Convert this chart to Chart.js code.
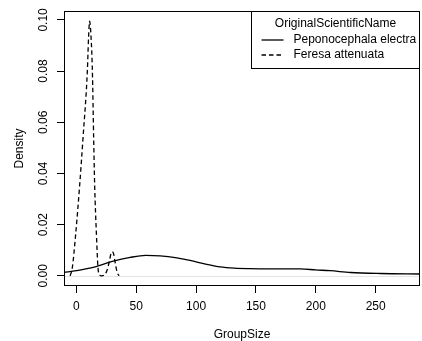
<!DOCTYPE html>
<html>
<head>
<meta charset="utf-8">
<script src="https://cdn.jsdelivr.net/npm/chart.js@4.4.1/dist/chart.umd.min.js"></script>
<style>
  html, body { margin: 0; padding: 0; background: #fff; }
  canvas { display: block; }
</style>
</head>
<body>
<canvas id="myChart" width="422" height="341"></canvas>
<script>
// density estimates
const seriesNames = ['Peponocephala electra', 'Feresa attenuata'];
const legendTitle = 'OriginalScientificName';

const electraX = [-10.3, 0, 15, 30, 45, 58, 70, 84, 95, 108, 120, 132, 145, 160, 175, 187, 200, 212, 229, 254, 287];
const electraY = [0.0013, 0.002, 0.0034, 0.0056, 0.0072, 0.008, 0.0078, 0.007, 0.006, 0.0046, 0.0035, 0.003, 0.0028, 0.0027, 0.0027, 0.0027, 0.0023, 0.002, 0.0013, 0.0009, 0.0007];

const feresaX = [-5.2, -3.4, -0.6, 2.8, 5.6, 9.2, 10.2, 11.1, 12.2, 13.4, 14.5, 15.3, 16.8, 18.1, 19.5, 21, 23, 25.5, 27.5, 29, 30, 31, 32.5, 34, 35.7];
const feresaY = [0, 0.003, 0.016, 0.0355, 0.054, 0.08, 0.093, 0.0995, 0.094, 0.08, 0.053, 0.0355, 0.016, 0.003, 0.0003, 0, 0.0002, 0.002, 0.0055, 0.0088, 0.0093, 0.0088, 0.005, 0.0015, 0];

const xTicks = [0, 50, 100, 150, 200, 250];
const yTicks = [0, 0.02, 0.04, 0.06, 0.08, 0.10];

const FONT = {family: '"Liberation Sans", Arial, sans-serif', size: 12};
Chart.defaults.font.family = FONT.family;
Chart.defaults.font.size = FONT.size;
Chart.defaults.color = '#000';

const dashes = [[], [4.5, 3]];

// grey zero line, plot box and the boxed legend
const rStyle = {
    id: 'rStyle',
    beforeDatasetsDraw(chart) {
        const {ctx, chartArea} = chart;
        const y = Math.round(chart.scales.y.getPixelForValue(0)) + 0.5;
        ctx.save();
        ctx.strokeStyle = '#e4e4e4';
        ctx.lineWidth = 1;
        ctx.beginPath();
        ctx.moveTo(chartArea.left, y);
        ctx.lineTo(chartArea.right, y);
        ctx.stroke();
        ctx.restore();
    },
    afterDraw(chart) {
        const {ctx, chartArea} = chart;
        ctx.save();
        ctx.strokeStyle = '#000';
        ctx.lineWidth = 1;
        ctx.strokeRect(chartArea.left + 0.5, chartArea.top + 0.5,
            chartArea.right - chartArea.left - 1, chartArea.bottom - chartArea.top - 1);

        const w = 168, h = 57;
        const r = chartArea.right - 0.5, t = chartArea.top + 0.5;
        const l = r - w;
        ctx.strokeRect(l, t, w, h);
        ctx.fillStyle = '#000';
        ctx.font = FONT.size + 'px ' + FONT.family;
        ctx.textBaseline = 'middle';
        ctx.textAlign = 'center';
        ctx.fillText(legendTitle, l + w / 2, t + 12);
        ctx.textAlign = 'left';
        chart.data.datasets.forEach((ds, i) => {
            const yy = t + 28.5 + i * 15;
            ctx.setLineDash(ds.borderDash || []);
            ctx.lineWidth = ds.borderWidth;
            ctx.beginPath();
            ctx.moveTo(l + 10, yy);
            ctx.lineTo(l + 32, yy);
            ctx.stroke();
            ctx.setLineDash([]);
            ctx.fillText(ds.label, l + 42, yy);
        });
        ctx.restore();
    }
};

const ctx = document.getElementById('myChart');
new Chart(ctx, {
    type: 'scatter',
    data: {
        datasets: [
            {
                label: seriesNames[0],
                data: electraX.map((x, i) => ({x: x, y: electraY[i]})),
                showLine: true,
                borderColor: '#000',
                borderWidth: 1.3,
                borderDash: dashes[0],
                pointRadius: 0,
                cubicInterpolationMode: 'monotone'
            },
            {
                label: seriesNames[1],
                data: feresaX.map((x, i) => ({x: x, y: feresaY[i]})),
                showLine: true,
                borderColor: '#000',
                borderWidth: 1.3,
                borderDash: dashes[1],
                pointRadius: 0,
                cubicInterpolationMode: 'monotone'
            }
        ]
    },
    options: {
        responsive: false,
        animation: false,
        devicePixelRatio: 1,
        layout: {
            padding: {top: 11, right: 2, left: 0, bottom: 0}
        },
        plugins: {
            legend: {display: false},
            tooltip: {enabled: false}
        },
        scales: {
            x: {
                type: 'linear',
                min: -10.3,
                max: 287,
                afterBuildTicks: s => { s.ticks = xTicks.map(v => ({value: v})); },
                afterFit: s => { s.height = 55; },
                ticks: {
                    padding: 6,
                    maxRotation: 0,
                    autoSkip: false,
                    color: '#000'
                },
                grid: {
                    drawOnChartArea: false,
                    tickLength: 7,
                    color: '#000'
                },
                border: {display: false},
                title: {
                    display: true,
                    text: 'GroupSize',
                    color: '#000',
                    padding: {top: 0, bottom: -0.5}
                }
            },
            y: {
                type: 'linear',
                min: -0.00398,
                max: 0.10348,
                afterBuildTicks: s => { s.ticks = yTicks.map(v => ({value: v})); },
                afterFit: s => { s.width = 64; },
                ticks: {
                    callback: v => v.toFixed(2),
                    minRotation: 90,
                    maxRotation: 90,
                    crossAlign: 'center',
                    padding: 1.5,
                    autoSkip: false,
                    color: '#000'
                },
                grid: {
                    drawOnChartArea: false,
                    tickLength: 7,
                    color: '#000'
                },
                border: {display: false},
                title: {
                    display: true,
                    text: 'Density',
                    color: '#000',
                    padding: {top: 12.5, bottom: 0}
                }
            }
        }
    },
    plugins: [rStyle]
});
</script>
</body>
</html>
